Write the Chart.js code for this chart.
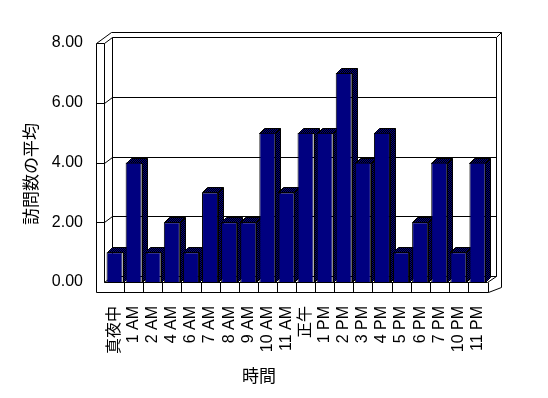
<!DOCTYPE html>
<html>
<head>
<meta charset="utf-8">
<script src="https://cdn.jsdelivr.net/npm/chart.js@4/dist/chart.umd.min.js"></script>
<style>
  html, body { margin: 0; padding: 0; background: #ffffff; }
  #chart { display: block; }
</style>
</head>
<body>
<canvas id="chart" width="548" height="398"></canvas>
<script>
const timeLabels = ["真夜中", "1 AM", "2 AM", "4 AM", "6 AM", "7 AM", "8 AM", "9 AM", "10 AM", "11 AM",
  "正午", "1 PM", "2 PM", "3 PM", "4 PM", "5 PM", "6 PM", "7 PM", "10 PM", "11 PM"];
const avgVisits = [1, 4, 1, 2, 1, 3, 2, 2, 5, 3, 5, 5, 7, 4, 5, 1, 2, 4, 1, 4];
const yMax = 8;
const yStep = 2;
const yTitle = "訪問数の平均";
const xTitle = "時間";

const LATIN = "'Liberation Sans', Arial, 'Noto Sans CJK JP', sans-serif";
const CJK = "'Noto Sans CJK JP', sans-serif";

function darkPattern(ctx) {
  const c = document.createElement("canvas");
  c.width = 2;
  c.height = 2;
  const p = c.getContext("2d");
  p.fillStyle = "#000080";
  p.fillRect(0, 0, 2, 2);
  p.fillStyle = "#000000";
  p.fillRect(1, 0, 1, 1);
  p.fillRect(0, 1, 1, 1);
  return ctx.createPattern(c, "repeat");
}

function line(ctx, pts) {
  ctx.beginPath();
  ctx.moveTo(pts[0][0] + 0.5, pts[0][1] + 0.5);
  for (let i = 1; i < pts.length; i++) ctx.lineTo(pts[i][0] + 0.5, pts[i][1] + 0.5);
  ctx.stroke();
}

// walls, floor and bar sides, drawn behind the bar fronts
const box3d = {
  id: "box3d",
  beforeDatasetsDraw(chart) {
    const ctx = chart.ctx;
    const a = chart.chartArea;
    const ys = chart.scales.y;
    const xs = chart.scales.x;
    const L = Math.round(a.left), R = Math.round(a.right), B = Math.round(a.bottom);
    const yF = (v) => Math.round(ys.getPixelForValue(v));
    const top = yF(yMax);
    ctx.save();
    ctx.strokeStyle = "#000000";
    ctx.lineWidth = 1;

    // gridlines on left wall + back wall
    for (let v = yStep; v <= yMax; v += yStep) {
      const y = yF(v);
      line(ctx, [[L - 9, y], [L - 1, y], [L + 7, y - 6], [R + 9, y - 6]]);
    }
    // outer top and right edges
    line(ctx, [[L - 9, top], [L + 6, top - 11], [R + 14, top - 11], [R + 14, B + 5], [R + 1, B + 10]]);
    line(ctx, [[R + 9, top - 6], [R + 14, top - 11]]);
    line(ctx, [[R + 9, top - 6], [R + 9, B - 6]]);
    // left wall
    line(ctx, [[L - 9, top], [L - 9, B + 10]]);
    line(ctx, [[L - 1, top], [L - 1, B]]);
    line(ctx, [[L + 7, top - 6], [L + 7, B - 6]]);
    // floor
    line(ctx, [[L - 1, B], [L + 7, B - 6], [R + 9, B - 6]]);
    line(ctx, [[R, B], [R + 9, B - 6]]);
    line(ctx, [[L - 1, B], [R, B]]);
    line(ctx, [[L - 9, B + 10], [R + 1, B + 10]]);
    line(ctx, [[R + 1, B], [R + 1, B + 10]]);
    for (let i = 1; i < timeLabels.length; i++) {
      const x = Math.round((xs.getPixelForValue(i - 1) + xs.getPixelForValue(i)) / 2);
      line(ctx, [[x, B], [x, B + 10]]);
    }

    // bar sides and tops
    const pat = darkPattern(ctx);
    const dx = 5, dy = -5;
    chart.getDatasetMeta(0).data.forEach((bar) => {
      const x0 = Math.round(bar.x - bar.width / 2);
      const x1 = Math.round(bar.x + bar.width / 2);
      const yt = Math.round(bar.y);
      const yb = Math.round(bar.base);
      ctx.fillStyle = pat;
      ctx.beginPath();
      ctx.moveTo(x0 + 0.5, yt + 0.5);
      ctx.lineTo(x0 + dx + 0.5, yt + dy + 0.5);
      ctx.lineTo(x1 + dx + 0.5, yt + dy + 0.5);
      ctx.lineTo(x1 + dx + 0.5, yb + dy + 0.5);
      ctx.lineTo(x1 + 0.5, yb + 0.5);
      ctx.lineTo(x1 + 0.5, yt + 0.5);
      ctx.closePath();
      ctx.fill();
      ctx.stroke();
      line(ctx, [[x1, yt], [x1 + dx, yt + dy]]);
    });
    ctx.restore();
  },
  afterDraw(chart) {
    const ctx = chart.ctx;
    ctx.save();
    ctx.fillStyle = "#000000";
    ctx.font = "17px " + CJK;
    ctx.textAlign = "center";
    ctx.textBaseline = "middle";
    ctx.fillText(xTitle, 259, 376);
    ctx.translate(31, 174);
    ctx.rotate(-Math.PI / 2);
    ctx.fillText(yTitle, 0, 0);
    ctx.restore();
  },
};

new Chart(document.getElementById("chart"), {
  type: "bar",
  data: {
    labels: timeLabels,
    datasets: [{
      data: avgVisits,
      backgroundColor: "#000080",
      borderColor: "#000000",
      borderWidth: 1,
      barPercentage: 0.84,
      categoryPercentage: 1.0,
    }],
  },
  options: {
    responsive: false,
    animation: false,
    events: [],
    layout: { padding: { top: 43, right: 61, left: 0, bottom: 0 } },
    plugins: { legend: { display: false }, tooltip: { enabled: false } },
    scales: {
      x: {
        grid: { display: false },
        border: { display: false },
        ticks: {
          color: "#000000",
          font: { family: LATIN, size: 16 },
          minRotation: 90,
          maxRotation: 90,
          autoSkip: false,
          padding: 16,
        },
        afterFit(scale) { scale.height = 116; },
      },
      y: {
        min: 0,
        max: yMax,
        grid: { display: false, drawTicks: false },
        border: { display: false },
        ticks: {
          stepSize: yStep,
          color: "#000000",
          font: { family: LATIN, size: 16 },
          padding: 22,
          callback: (v) => Number(v).toFixed(2),
        },
        afterFit(scale) { scale.width = 105; },
      },
    },
  },
  plugins: [box3d],
});
</script>
</body>
</html>
